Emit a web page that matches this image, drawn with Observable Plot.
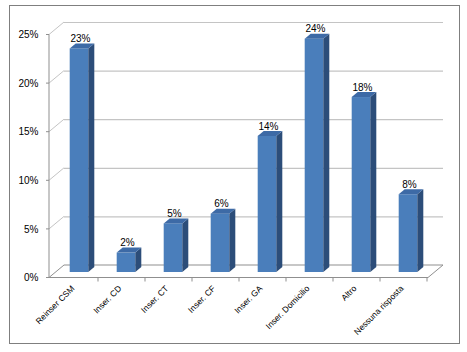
<!DOCTYPE html>
<html>
<head>
<meta charset="utf-8">
<script src="https://cdn.jsdelivr.net/npm/d3@7"></script>
<script src="https://cdn.jsdelivr.net/npm/@observablehq/plot@0.6"></script>
<style>
  html, body { margin: 0; padding: 0; background: #fff; }
  #wrap { position: relative; width: 467px; height: 352px; }
  #border { position: absolute; left: 9px; top: 5px; width: 451px; height: 339px; border: 1px solid #7f7f7f; box-sizing: border-box; }
  #chart { position: absolute; left: 0; top: 0; }
  svg { font-family: "Liberation Sans", Arial, sans-serif; }
</style>
</head>
<body>
<div id="wrap"><div id="border"></div><div id="chart"></div></div>
<script>
const categories = ["Reinser CSM", "Inser. CD", "Inser. CT", "Inser. CF", "Inser. GA", "Inser. Domicilio", "Altro", "Nessuna risposta"];
const values = [23, 2, 5, 6, 14, 24, 18, 8];
const yTicks = [0, 5, 10, 15, 20, 25];

const data = categories.map((c, i) => ({cat: c, value: values[i]}));

// 3D geometry (pixel offsets)
const wallDx = 15, wallDy = -12.5;   // depth of the floor / back wall
const barFx = 4.5, barFy = -5.5;     // bar front-face offset from front plane
const barDx = 6, barDy = -5;         // bar depth
const inset = 14.2;

const frontColor = "#4a7ebb", sideColor = "#2c4d79", topColor = "#3d6aa6";
const gridColor = "#c4c4c4", axisColor = "#8f8f8f";

function svgEl(tag, attrs) {
  const e = document.createElementNS("http://www.w3.org/2000/svg", tag);
  for (const k in attrs) e.setAttribute(k, attrs[k]);
  return e;
}

// back wall diagonals + floor + axis + x ticks
function frameMark(index, scales, values, dims) {
  const {x, y} = scales;
  const g = svgEl("g", {});
  const x0 = dims.marginLeft, x1 = dims.width - dims.marginRight;
  const y0 = y(0);
  const bw = x.bandwidth ? x.bandwidth() : (x1 - x0) / categories.length;
  for (const t of yTicks) {
    const yy = y(t);
    g.appendChild(svgEl("line", {x1: x0, y1: yy, x2: x0 + wallDx, y2: yy + wallDy, stroke: t === 0 ? axisColor : gridColor, "stroke-width": 1}));
    g.appendChild(svgEl("line", {x1: x0 - 3, y1: yy, x2: x0, y2: yy, stroke: axisColor, "stroke-width": 1}));
  }
  g.appendChild(svgEl("line", {x1: x0, y1: y(yTicks[yTicks.length - 1]), x2: x0, y2: y0, stroke: axisColor, "stroke-width": 1}));
  g.appendChild(svgEl("line", {x1: x0, y1: y0, x2: x1, y2: y0, stroke: axisColor, "stroke-width": 1}));
  g.appendChild(svgEl("line", {x1: x0 + wallDx, y1: y0 + wallDy, x2: x1 + wallDx, y2: y0 + wallDy, stroke: axisColor, "stroke-width": 1}));
  g.appendChild(svgEl("line", {x1: x1, y1: y0, x2: x1 + wallDx, y2: y0 + wallDy, stroke: axisColor, "stroke-width": 1}));
  categories.forEach((c, i) => {
    const bx = x(c) + bw;
    g.appendChild(svgEl("line", {x1: bx, y1: y0, x2: bx, y2: y0 + 4, stroke: axisColor, "stroke-width": 1}));
  });
  return g;
}

// side and top faces of the bars
function depthMark(index, scales, values, dims) {
  const {x, y} = scales;
  const g = svgEl("g", {});
  const bw = x.bandwidth ? x.bandwidth() : (dims.width - dims.marginLeft - dims.marginRight) / categories.length;
  for (const d of data) {
    const xa = x(d.cat) + inset + barFx;
    const xb = x(d.cat) + bw - inset + barFx;
    const yt = y(d.value) + barFy;
    const yb = y(0) + barFy;
    g.appendChild(svgEl("polygon", {
      points: `${xb},${yt} ${xb + barDx},${yt + barDy} ${xb + barDx},${yb + barDy} ${xb},${yb}`,
      fill: sideColor
    }));
    g.appendChild(svgEl("polygon", {
      points: `${xa},${yt} ${xa + barDx},${yt + barDy} ${xb + barDx},${yt + barDy} ${xb},${yt}`,
      fill: topColor
    }));
  }
  return g;
}

const chart = Plot.plot({
  width: 467,
  height: 352,
  marginLeft: 49,
  marginRight: 39,
  marginTop: 34.5,
  marginBottom: 74.5,
  style: {fontFamily: "'Liberation Sans', Arial, sans-serif", background: "transparent"},
  x: {type: "band", domain: categories, padding: 0, axis: null},
  y: {domain: [0, 25], axis: null},
  marks: [
    Plot.ruleY(yTicks.filter(t => t > 0), {stroke: gridColor, strokeWidth: 1.2, strokeOpacity: 1, dx: wallDx, dy: wallDy}),
    frameMark,
    Plot.barY(data, {x: "cat", y: "value", fill: frontColor, insetLeft: inset, insetRight: inset, dx: barFx, dy: barFy}),
    depthMark,
    Plot.text(yTicks, {y: d => d, frameAnchor: "left", text: d => d + "%", textAnchor: "end", dx: -11, fontSize: 10, fill: "#000"}),
    Plot.text(data, {x: "cat", y: "value", text: d => d.value + "%", dx: barFx + 1, dy: -15.5, fontSize: 10, fill: "#000"}),
    Plot.text(data, {x: "cat", frameAnchor: "bottom", text: "cat", rotate: -45, textAnchor: "end", dx: 0, dy: 11, fontSize: 8.5, fill: "#000"})
  ]
});
document.getElementById("chart").appendChild(chart);
</script>
</body>
</html>
